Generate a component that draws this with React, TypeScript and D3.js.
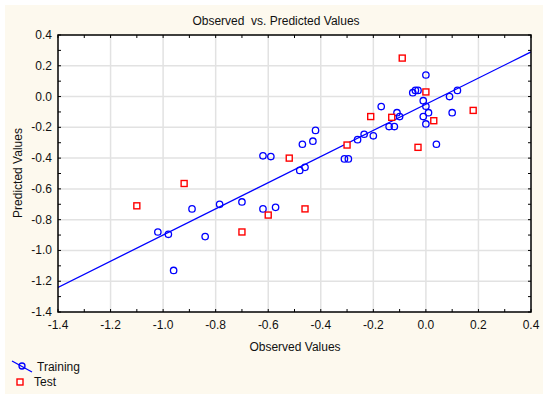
import React, { useEffect, useRef } from 'react';
import * as d3 from 'd3';

// values
const trainingObserved = [-1.02, -0.98, -0.96, -0.89, -0.84, -0.785, -0.70, -0.62, -0.572, -0.62, -0.59, -0.48, -0.46, -0.47, -0.43, -0.42, -0.31, -0.295, -0.26, -0.235, -0.20, -0.17, -0.14, -0.12, -0.11, -0.10, -0.05, -0.04, -0.03, 0.0, -0.01, 0.0, 0.01, -0.01, 0.0, 0.04, 0.09, 0.12, 0.10];
const trainingPredicted = [-0.88, -0.895, -1.13, -0.73, -0.91, -0.70, -0.685, -0.73, -0.72, -0.385, -0.39, -0.48, -0.46, -0.31, -0.29, -0.22, -0.405, -0.405, -0.28, -0.245, -0.255, -0.065, -0.195, -0.195, -0.105, -0.13, 0.025, 0.04, 0.04, 0.14, -0.027, -0.063, -0.105, -0.13, -0.178, -0.31, 0.0, 0.04, -0.105];

const testObserved = [-1.10, -0.92, -0.70, -0.60, -0.52, -0.46, -0.30, -0.21, -0.13, -0.09, 0.0, 0.03, -0.03, 0.18];
const testPredicted = [-0.71, -0.565, -0.88, -0.77, -0.40, -0.73, -0.315, -0.13, -0.135, 0.25, 0.03, -0.157, -0.33, -0.09];

// fitted line end points
const fitX = [-1.4, 0.4];
const fitY = [-1.24, 0.29];

const xTicks = [-1.4, -1.2, -1.0, -0.8, -0.6, -0.4, -0.2, 0.0, 0.2, 0.4];
const yTicks = [0.4, 0.2, 0.0, -0.2, -0.4, -0.6, -0.8, -1.0, -1.2, -1.4];

const title = 'Observed  vs. Predicted Values';
const xTitle = 'Observed Values';
const yTitle = 'Predicted Values';
const seriesNames = ['Training', 'Test'];

const W = 550;
const H = 399;
const font = '"Liberation Sans", Arial, sans-serif';

const App: React.FC = () => {
    const ref = useRef<SVGSVGElement>(null);

    useEffect(() => {
        if (!ref.current) return;
        const svg = d3.select(ref.current);
        svg.selectAll('*').remove();

        const margin = { top: 35, right: 19, bottom: 87, left: 58 };

        const x = d3.scaleLinear().domain([-1.4, 0.4]).range([margin.left, W - margin.right]);
        const y = d3.scaleLinear().domain([-1.4, 0.4]).range([H - margin.bottom, margin.top]);

        // cream panel
        svg.append('rect')
            .attr('x', 5).attr('y', 5)
            .attr('width', 538).attr('height', 389)
            .attr('fill', '#fdf9ee');

        svg.append('rect')
            .attr('x', x(-1.4)).attr('y', y(0.4))
            .attr('width', x(0.4) - x(-1.4)).attr('height', y(-1.4) - y(0.4))
            .attr('fill', '#ffffff');

        // grid
        const grid = svg.append('g').attr('stroke', '#e2e2e2').attr('stroke-width', 1.5);
        xTicks.slice(1, -1).forEach((t) => {
            grid.append('line').attr('x1', x(t)).attr('x2', x(t)).attr('y1', y(0.4)).attr('y2', y(-1.4));
        });
        yTicks.slice(1, -1).forEach((t) => {
            grid.append('line').attr('y1', y(t)).attr('y2', y(t)).attr('x1', x(-1.4)).attr('x2', x(0.4));
        });

        // inner ticks every 0.1
        const minor = d3.range(-14, 5).map((i) => i / 10);
        const tk = svg.append('g').attr('stroke', '#000').attr('stroke-width', 1);
        minor.forEach((t) => {
            tk.append('line').attr('x1', x(t)).attr('x2', x(t)).attr('y1', y(-1.4)).attr('y2', y(-1.4) - 3);
            tk.append('line').attr('x1', x(t)).attr('x2', x(t)).attr('y1', y(0.4)).attr('y2', y(0.4) + 3);
            tk.append('line').attr('y1', y(t)).attr('y2', y(t)).attr('x1', x(-1.4)).attr('x2', x(-1.4) + 3);
            tk.append('line').attr('y1', y(t)).attr('y2', y(t)).attr('x1', x(0.4)).attr('x2', x(0.4) - 3);
        });

        // tick labels
        svg.append('g').selectAll('text').data(xTicks).enter().append('text')
            .attr('x', (d) => x(d)).attr('y', y(-1.4) + 17)
            .attr('text-anchor', 'middle')
            .style('font-family', font).style('font-size', '12px').attr('fill', '#111')
            .text((d) => d3.format('.1f')(d).replace('−', '-'));

        svg.append('g').selectAll('text').data(yTicks).enter().append('text')
            .attr('x', x(-1.4) - 6).attr('y', (d) => y(d) + 4)
            .attr('text-anchor', 'end')
            .style('font-family', font).style('font-size', '12px').attr('fill', '#111')
            .text((d) => d3.format('.1f')(d).replace('−', '-'));

        // fit line
        const clip = svg.append('clipPath').attr('id', 'plotclip');
        clip.append('rect').attr('x', x(-1.4)).attr('y', y(0.4))
            .attr('width', x(0.4) - x(-1.4)).attr('height', y(-1.4) - y(0.4));

        const line = d3.line<number>().x((d) => x(d)).y((_, i) => y(fitY[i]));
        svg.append('path')
            .attr('d', line(fitX))
            .attr('clip-path', 'url(#plotclip)')
            .attr('fill', 'none').attr('stroke', '#0000ff').attr('stroke-width', 1.3);

        // training points
        svg.append('g').selectAll('circle').data(trainingObserved).enter().append('circle')
            .attr('cx', (d) => x(d)).attr('cy', (_, i) => y(trainingPredicted[i]))
            .attr('r', 3.2)
            .attr('fill', 'none').attr('stroke', '#0000ff').attr('stroke-width', 1.3);

        // test points
        svg.append('g').selectAll('rect').data(testObserved).enter().append('rect')
            .attr('x', (d) => x(d) - 3).attr('y', (_, i) => y(testPredicted[i]) - 3)
            .attr('width', 6).attr('height', 6)
            .attr('fill', '#ffffff').attr('stroke', '#ff0000').attr('stroke-width', 1.4);

        // frame
        svg.append('rect')
            .attr('x', x(-1.4)).attr('y', y(0.4))
            .attr('width', x(0.4) - x(-1.4)).attr('height', y(-1.4) - y(0.4))
            .attr('fill', 'none').attr('stroke', '#000').attr('stroke-width', 1.5);

        // titles
        svg.append('text')
            .attr('x', 276).attr('y', 25)
            .attr('text-anchor', 'middle')
            .style('font-family', font).style('font-size', '12px').attr('fill', '#111')
            .style('white-space', 'pre')
            .text(title);

        svg.append('text')
            .attr('x', 295).attr('y', 351)
            .attr('text-anchor', 'middle')
            .style('font-family', font).style('font-size', '12px').attr('fill', '#111')
            .text(xTitle);

        svg.append('text')
            .attr('transform', 'translate(22,173) rotate(-90)')
            .attr('text-anchor', 'middle')
            .style('font-family', font).style('font-size', '12px').attr('fill', '#111')
            .text(yTitle);

        // legend
        const lg = svg.append('g');
        lg.append('line').attr('x1', 12).attr('y1', 361).attr('x2', 32).attr('y2', 372)
            .attr('stroke', '#0000ff').attr('stroke-width', 1.3);
        lg.append('circle').attr('cx', 22).attr('cy', 366).attr('r', 3)
            .attr('fill', 'none').attr('stroke', '#0000ff').attr('stroke-width', 1.3);
        lg.append('text').attr('x', 37).attr('y', 370.5)
            .style('font-family', font).style('font-size', '12px').attr('fill', '#111')
            .text(seriesNames[0]);
        lg.append('rect').attr('x', 17).attr('y', 379).attr('width', 6).attr('height', 6)
            .attr('fill', '#fff').attr('stroke', '#ff0000').attr('stroke-width', 1.4);
        lg.append('text').attr('x', 34).attr('y', 386)
            .style('font-family', font).style('font-size', '12px').attr('fill', '#111')
            .text(seriesNames[1]);
    }, []);

    return (
        <svg ref={ref} width={W} height={H}
            style={{ position: 'absolute', left: 0, top: 0, background: '#ffffff' }} />
    );
};

export default App;
